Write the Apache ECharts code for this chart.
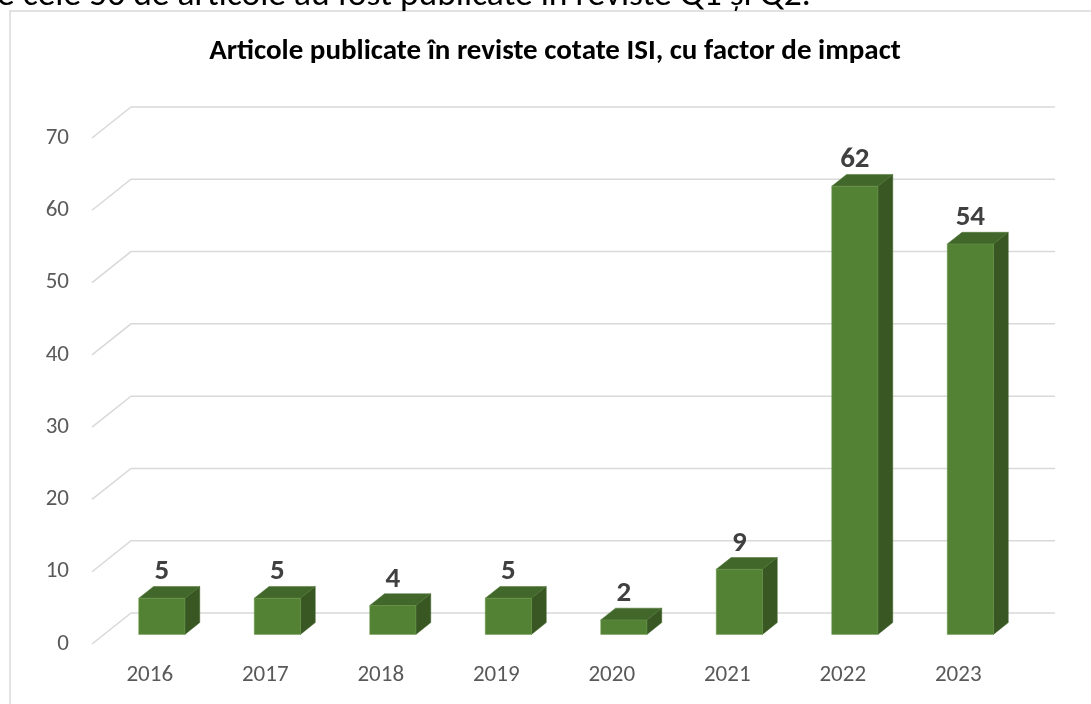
<!DOCTYPE html>
<html>
<head>
<meta charset="utf-8">
<script src="https://cdn.jsdelivr.net/npm/echarts@6/dist/echarts.min.js"></script>
<style>html,body{margin:0;padding:0;background:#fff;}#c{width:1091px;height:704px;}</style>
</head>
<body>
<div id="c"></div>
<script>
var categories = ['2016','2017','2018','2019','2020','2021','2022','2023'];
var values = [5, 5, 4, 5, 2, 9, 62, 54];
var yTicks = [0, 10, 20, 30, 40, 50, 60, 70];
var titleText = 'Articole publicate în reviste cotate ISI, cu factor de impact';
var topText = 'e cele 56 de articole au fost publicate în reviste Q1 și Q2.';

var FONT = 'Carlito, "Open Sans", sans-serif';
var DEPTH = [39, -31];
var F_FRONT = 0.31, F_BACK = 0.69;

var chart = echarts.init(document.getElementById('c'));

function gridRender(params, api) {
  var cs = params.coordSys;
  var y = api.coord([0, api.value(1)])[1];
  var x0 = cs.x, x1 = cs.x + cs.width;
  return {
    type: 'polyline',
    shape: { points: [[x0, y], [x0 + DEPTH[0], y + DEPTH[1]], [x1 + DEPTH[0], y + DEPTH[1]]] },
    style: { stroke: '#d9d9d9', lineWidth: 1.5, fill: null },
    silent: true
  };
}

function barRender(params, api) {
  var idx = api.value(0), v = api.value(1);
  var top = api.coord([idx, v]);
  var base = api.coord([idx, 0]);
  var band = api.size([1, 0])[0];
  var w = band * 0.40;
  var fx = DEPTH[0] * F_FRONT, fy = DEPTH[1] * F_FRONT;
  var dx = DEPTH[0] * (F_BACK - F_FRONT), dy = DEPTH[1] * (F_BACK - F_FRONT);
  var xl = top[0] + fx - w / 2, xr = top[0] + fx + w / 2;
  var yt = top[1] + fy, yb = base[1] + fy;
  return {
    type: 'group',
    children: [
      { type: 'polygon', shape: { points: [[xr, yt], [xr + dx, yt + dy], [xr + dx, yb + dy], [xr, yb]] },
        style: { fill: '#385723', stroke: '#3e6027', lineWidth: 0.5 } },
      { type: 'polygon', shape: { points: [[xl, yt], [xl + dx, yt + dy], [xr + dx, yt + dy], [xr, yt]] },
        style: { fill: '#42672a', stroke: '#4a7330', lineWidth: 0.5 } },
      { type: 'rect', shape: { x: xl, y: yt, width: w, height: yb - yt },
        style: { fill: '#548235', stroke: '#6a9a4a', lineWidth: 0.5 } },
      { type: 'text', style: { text: String(v), x: (xl + xr) / 2, y: yt - 26, align: 'center', verticalAlign: 'middle',
        fill: '#404040', font: 'bold 29px ' + FONT } }
    ]
  };
}

var option = {
  backgroundColor: '#ffffff',
  animation: false,
  graphic: [
    { type: 'rect', shape: { x: 10, y: 11, width: 1100, height: 720 }, style: { fill: null, stroke: '#d9d9d9', lineWidth: 1.5 }, z: 0 },
    { type: 'text', style: { text: topText, x: -3, y: 14, align: 'left', verticalAlign: 'bottom', fill: '#000000', font: '35.5px ' + FONT }, z: 10 },
    { type: 'text', style: { text: titleText, x: 555, y: 52, align: 'center', verticalAlign: 'middle', fill: '#000000', font: 'bold 29px ' + FONT }, z: 10 }
  ],
  grid: { left: 92, right: 75, top: 138, bottom: 60, containLabel: false },
  xAxis: {
    type: 'category',
    data: categories,
    axisLine: { show: false },
    axisTick: { show: false },
    axisLabel: { color: '#595959', fontSize: 23, fontFamily: FONT, margin: 20 }
  },
  yAxis: {
    type: 'value',
    min: 0, max: 70, interval: 10,
    splitLine: { show: false },
    axisLine: { show: false },
    axisTick: { show: false },
    axisLabel: { color: '#595959', fontSize: 23, fontFamily: FONT, margin: 23 }
  },
  series: [
    { type: 'custom', renderItem: gridRender, data: yTicks.map(function (t) { return [0, t]; }), z: 1, silent: true },
    { type: 'custom', renderItem: barRender, data: values.map(function (v, i) { return [i, v]; }), z: 5 }
  ]
};
chart.setOption(option);
</script>
</body>
</html>
